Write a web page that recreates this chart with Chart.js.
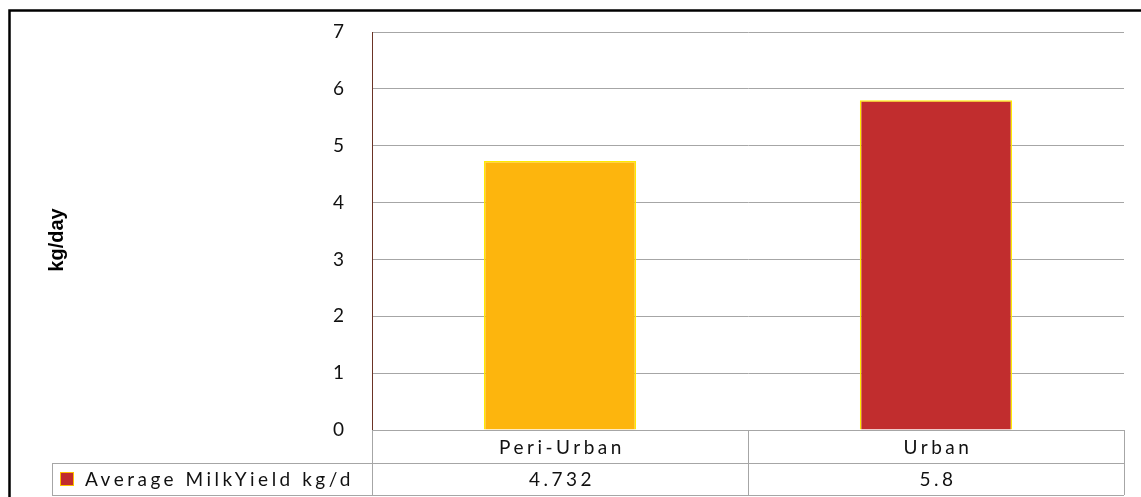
<!DOCTYPE html>
<html>
<head>
<meta charset="utf-8">
<script src="https://cdn.jsdelivr.net/npm/chart.js@4"></script>
<style>
  html, body { margin: 0; padding: 0; background: #fff; }
  #wrap { width: 1141px; height: 497px; }
</style>
</head>
<body>
<div id="wrap"><canvas id="milk-chart"></canvas></div>
<script>
// Average milk yield per day, peri-urban vs urban
const categories = ['Peri-Urban', 'Urban'];
const milkYield = [4.732, 5.8];
const valueLabels = ['4.732', '5.8'];
const seriesName = 'Average MilkYield kg/d';
const barColors = ['#FDB50D', '#C12D2E'];
const yTicks = [0, 1, 2, 3, 4, 5, 6, 7];

const FONT = 'Lato, "Open Sans", sans-serif';
const LINE = '#a6a6a6';

// frame, y title and the data table under the plot
const tablePlugin = {
  id: 'dataTable',
  afterDraw(chart) {
    const { ctx, chartArea: a, scales: { x } } = chart;
    const rowH = 33;
    const top = a.bottom, mid = a.bottom + rowH, bot = a.bottom + rowH * 2 - 1;
    const keyLeft = 52;
    ctx.save();

    // outer black frame (left + top only, rest is cropped)
    ctx.strokeStyle = '#000';
    ctx.lineWidth = 2.5;
    ctx.beginPath();
    ctx.moveTo(9.5, chart.height);
    ctx.lineTo(9.5, 10.5);
    ctx.lineTo(chart.width, 10.5);
    ctx.stroke();

    // table grid
    ctx.strokeStyle = LINE;
    ctx.lineWidth = 1;
    ctx.beginPath();
    ctx.moveTo(a.left, top + 0.5); ctx.lineTo(a.right, top + 0.5);
    ctx.moveTo(keyLeft, mid + 0.5); ctx.lineTo(a.right, mid + 0.5);
    ctx.moveTo(keyLeft, bot + 0.5); ctx.lineTo(a.right, bot + 0.5);
    ctx.moveTo(keyLeft + 0.5, mid); ctx.lineTo(keyLeft + 0.5, bot);
    ctx.moveTo(a.left + 0.5, top); ctx.lineTo(a.left + 0.5, bot);
    ctx.moveTo(a.right + 0.5, top); ctx.lineTo(a.right + 0.5, bot);
    const half = (x.getPixelForValue(1) - x.getPixelForValue(0)) / 2;
    for (let i = 0; i < categories.length - 1; i++) {
      const bx = Math.round(x.getPixelForValue(i) + half) + 0.5;
      ctx.moveTo(bx, top); ctx.lineTo(bx, bot);
    }
    ctx.stroke();

    // texts
    ctx.fillStyle = '#111';
    ctx.font = '19px ' + FONT;
    ctx.letterSpacing = '3.5px';
    ctx.textAlign = 'center';
    ctx.textBaseline = 'middle';
    categories.forEach((c, i) => {
      const cx = x.getPixelForValue(i) + 2;
      ctx.fillText(c, cx, top + rowH / 2 + 1);
      ctx.fillText(valueLabels[i], cx, mid + rowH / 2);
    });

    // legend key
    ctx.fillStyle = barColors[1];
    ctx.fillRect(61, 473, 12, 12);
    ctx.strokeStyle = '#FFC000';
    ctx.lineWidth = 1;
    ctx.strokeRect(60.5, 472.5, 13, 13);
    ctx.fillStyle = '#111';
    ctx.textAlign = 'left';
    ctx.fillText(seriesName, 85, mid + rowH / 2);
    ctx.letterSpacing = '0px';

    // y axis title
    ctx.translate(63, 240);
    ctx.rotate(-Math.PI / 2);
    ctx.font = 'bold 20px "Liberation Sans", Arial, sans-serif';
    ctx.textAlign = 'center';
    ctx.textBaseline = 'alphabetic';
    ctx.fillStyle = '#000';
    ctx.fillText('kg/day', 0, 0);
    ctx.restore();
  }
};

new Chart(document.getElementById('milk-chart'), {
  type: 'bar',
  data: {
    labels: categories,
    datasets: [{
      label: seriesName,
      data: milkYield,
      backgroundColor: barColors,
      borderColor: '#FFEA00',
      borderWidth: 1.5,
      categoryPercentage: 1,
      barPercentage: 0.405,
    }],
  },
  options: {
    responsive: true,
    maintainAspectRatio: false,
    animation: false,
    layout: { padding: { top: 32, right: 17, bottom: 67, left: 0 } },
    plugins: {
      legend: { display: false },
      tooltip: { enabled: false },
    },
    scales: {
      x: { display: false },
      y: {
        min: 0,
        max: 7,
        afterBuildTicks: s => { s.ticks = yTicks.map(v => ({ value: v })); },
        afterFit: s => { s.width = 372; },
        grid: { color: LINE, drawTicks: true, tickLength: 27, tickColor: 'rgba(0,0,0,0)' },
        border: { color: '#6b3325', width: 1 },
        ticks: { color: '#111', padding: 1, font: { family: FONT, size: 19 } },
      },
    },
  },
  plugins: [tablePlugin],
});
</script>
</body>
</html>
